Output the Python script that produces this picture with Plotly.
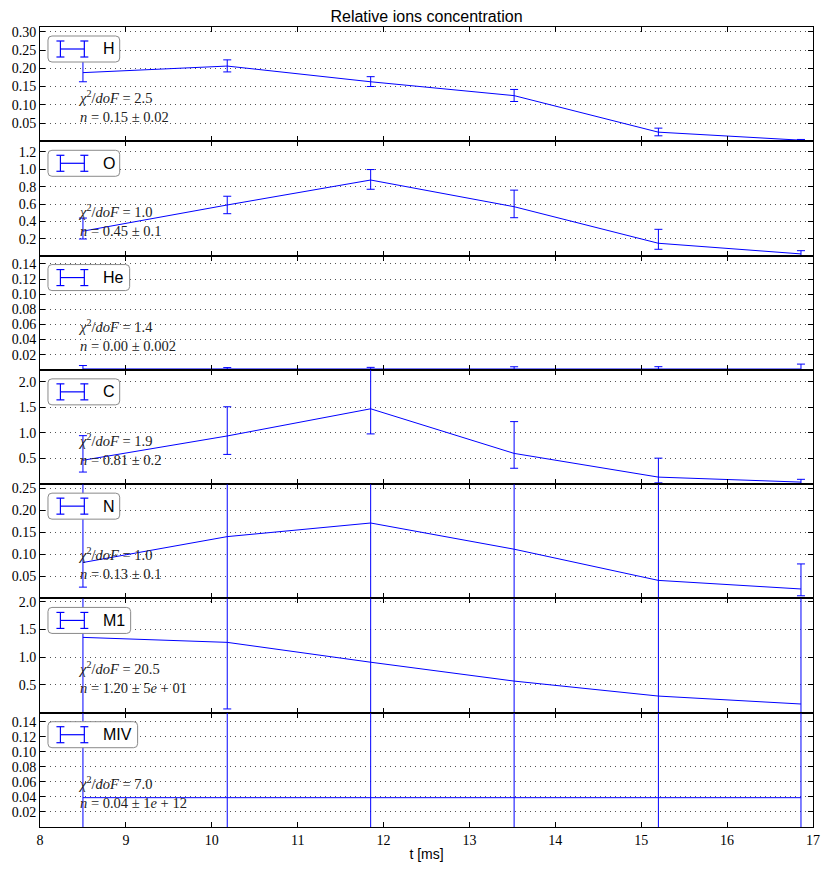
import plotly.graph_objects as go
from plotly.subplots import make_subplots

# ---------------- data ----------------
t_ms = [8.5, 10.18, 11.85, 13.52, 15.2, 16.86]
ions = ["H", "O", "He", "C", "N", "M1", "MIV"]

H_val = [0.188, 0.206, 0.163, 0.125, 0.025, 0.003]
H_up = [0.052, 0.017, 0.014, 0.017, 0.011, 0.002]
H_dn = [0.025, 0.016, 0.013, 0.016, 0.010, 0.002]

O_val = [0.29, 0.59, 0.876, 0.57, 0.151, 0.029]
O_up = [0.15, 0.10, 0.12, 0.19, 0.16, 0.037]
O_dn = [0.09, 0.10, 0.106, 0.126, 0.069, 0.029]

He_val = [0.0012, 0.0010, 0.0008, 0.0009, 0.0010, 0.0011]
He_up = [0.0045, 0.0020, 0.0025, 0.0032, 0.0032, 0.0065]
He_dn = [0.0012, 0.0010, 0.0008, 0.0009, 0.0010, 0.0011]

C_val = [0.466, 0.94, 1.47, 0.60, 0.137, 0.04]
C_up = [0.48, 0.57, 0.80, 0.62, 0.37, 0.054]
C_dn = [0.23, 0.36, 0.49, 0.29, 0.112, 0.04]

N_val = [0.0817, 0.1406, 0.1716, 0.112, 0.041, 0.0215]
N_up = [0.30, 0.30, 0.30, 0.30, 0.30, 0.057]
N_dn = [0.056, 0.139, 0.30, 0.112, 0.041, 0.0155]

M1_val = [1.358, 1.268, 0.91, 0.57, 0.30, 0.157]
M1_up = [50.0, 50.0, 50.0, 50.0, 50.0, 50.0]
M1_dn = [50.0, 1.20, 50.0, 50.0, 50.0, 50.0]

MIV_val = [0.039, 0.039, 0.039, 0.039, 0.039, 0.039]
MIV_up = [1e12, 1e12, 1e12, 1e12, 1e12, 1e12]
MIV_dn = [1e12, 1e12, 1e12, 1e12, 1e12, 1e12]

values = [H_val, O_val, He_val, C_val, N_val, M1_val, MIV_val]
err_up = [H_up, O_up, He_up, C_up, N_up, M1_up, MIV_up]
err_dn = [H_dn, O_dn, He_dn, C_dn, N_dn, M1_dn, MIV_dn]

chi2_dof = ["2.5", "1.0", "1.4", "1.9", "1.0", "20.5", "7.0"]
n_fit = ["0.15 ± 0.02", "0.45 ± 0.1", "0.00 ± 0.002", "0.81 ± 0.2",
         "0.13 ± 0.1", "1.20 ± 5<i>e</i> + 01", "0.04 ± 1<i>e</i> + 12"]

x_ticks = [8, 9, 10, 11, 12, 13, 14, 15, 16, 17]
y_ticks = [
    [0.05, 0.10, 0.15, 0.20, 0.25, 0.30],
    [0.2, 0.4, 0.6, 0.8, 1.0, 1.2],
    [0.02, 0.04, 0.06, 0.08, 0.10, 0.12, 0.14],
    [0.5, 1.0, 1.5, 2.0],
    [0.05, 0.10, 0.15, 0.20, 0.25],
    [0.5, 1.0, 1.5, 2.0],
    [0.02, 0.04, 0.06, 0.08, 0.10, 0.12, 0.14],
]
y_ticktext = [
    ["0.05", "0.10", "0.15", "0.20", "0.25", "0.30"],
    ["0.2", "0.4", "0.6", "0.8", "1.0", "1.2"],
    ["0.02", "0.04", "0.06", "0.08", "0.10", "0.12", "0.14"],
    ["0.5", "1.0", "1.5", "2.0"],
    ["0.05", "0.10", "0.15", "0.20", "0.25"],
    ["0.5", "1.0", "1.5", "2.0"],
    ["0.02", "0.04", "0.06", "0.08", "0.10", "0.12", "0.14"],
]
y_ranges = [[0, 0.313], [0.01, 1.32], [0, 0.151], [0, 2.23],
            [0, 0.26], [0, 2.06], [0, 0.152]]

# ---------------- layout geometry (pixels) ----------------
W, H = 832, 872
ML, MR, MT, MB = 39, 17, 27, 45
PW, PH = W - ML - MR, H - MT - MB
NP = len(ions)
panel_h = PH / NP


def px2x(px):
    return (px - ML) / PW


def py2y(py):
    return (MT + PH - py) / PH


serif = "Liberation Serif, DejaVu Serif, serif"
sans = "Liberation Sans, Arial, sans-serif"
blue = "#0000ff"

fig = make_subplots(rows=NP, cols=1, shared_xaxes=True, vertical_spacing=0)

for i in range(NP):
    fig.add_trace(
        go.Scatter(
            x=t_ms, y=values[i], mode="lines", name=ions[i], showlegend=False,
            line=dict(color=blue, width=1),
            error_y=dict(type="data", symmetric=False, array=err_up[i],
                         arrayminus=err_dn[i], color=blue, thickness=1, width=4),
        ),
        row=i + 1, col=1,
    )
    fig.update_yaxes(
        range=y_ranges[i], tickvals=y_ticks[i], ticktext=y_ticktext[i],
        row=i + 1, col=1,
    )

fig.update_xaxes(
    range=[8, 17], tickvals=x_ticks, ticks="inside", ticklen=5, tickcolor="black",
    tickwidth=1, mirror="allticks", showline=True, linecolor="black", linewidth=1,
    showgrid=False, zeroline=False,
    tickfont=dict(family=serif, size=14, color="black"),
)
fig.update_yaxes(
    ticks="inside", ticklen=5, tickcolor="black", tickwidth=1, mirror="allticks",
    showline=True, linecolor="black", linewidth=1, zeroline=False,
    showgrid=True, gridcolor="#555555", gridwidth=1, griddash="1px,4px",
    tickfont=dict(family=serif, size=14, color="black"),
)
fig.update_xaxes(title=dict(text="t [ms]", font=dict(family=sans, size=14, color="black"),
                            standoff=2), row=NP, col=1)

shapes = []
annotations = []
box_right = [119, 119, 129, 119, 119, 130, 137]
r = 4
for i in range(NP):
    top = MT + i * panel_h
    bottom = top + panel_h
    # legend frame
    x0, x1 = 47, box_right[i]
    y0, y1 = top + 9, top + 35
    pts = [
        ("M", [(x0 + r, y0)]), ("L", [(x1 - r, y0)]), ("Q", [(x1, y0), (x1, y0 + r)]),
        ("L", [(x1, y1 - r)]), ("Q", [(x1, y1), (x1 - r, y1)]), ("L", [(x0 + r, y1)]),
        ("Q", [(x0, y1), (x0, y1 - r)]), ("L", [(x0, y0 + r)]), ("Q", [(x0, y0), (x0 + r, y0)]),
    ]
    path = " ".join(
        cmd + " " + " ".join(f"{px2x(a):.5f},{py2y(b):.5f}" for a, b in cs) for cmd, cs in pts
    ) + " Z"
    shapes.append(dict(type="path", xref="paper", yref="paper", path=path,
                       fillcolor="white", line=dict(color="#8a8a8a", width=1), layer="above"))
    # legend handle: line with error caps
    ym = top + 22
    xa, xb = 59.5, 83.5
    shapes.append(dict(type="line", xref="paper", yref="paper", x0=px2x(xa), x1=px2x(xb),
                       y0=py2y(ym), y1=py2y(ym), line=dict(color=blue, width=1.2), layer="above"))
    for xc in (xa, xb):
        shapes.append(dict(type="line", xref="paper", yref="paper", x0=px2x(xc), x1=px2x(xc),
                           y0=py2y(ym - 8), y1=py2y(ym + 8), line=dict(color=blue, width=1.2),
                           layer="above"))
        for yc in (ym - 8, ym + 8):
            shapes.append(dict(type="line", xref="paper", yref="paper", x0=px2x(xc - 4),
                               x1=px2x(xc + 4), y0=py2y(yc), y1=py2y(yc),
                               line=dict(color=blue, width=1.2), layer="above"))
    annotations.append(dict(text=ions[i], xref="paper", yref="paper", x=px2x(100),
                            y=py2y(ym), xanchor="left", yanchor="middle", showarrow=False,
                            font=dict(family=sans, size=16, color="black")))
    # fit texts (two lines in one block)
    annotations.append(dict(
        text=f"<i>χ</i><sup>2</sup>/<i>doF</i> = {chi2_dof[i]}<br><i>n</i> = {n_fit[i]}",
        xref="paper", yref="paper", x=px2x(75), y=py2y(bottom - 0.305 * panel_h),
        xanchor="left", yanchor="middle", align="left", showarrow=False,
        font=dict(family=serif, size=14.5, color="#222222")))

fig.update_layout(
    width=W, height=H,
    margin=dict(l=ML, r=MR, t=MT, b=MB),
    paper_bgcolor="white", plot_bgcolor="white",
    title=dict(text="Relative ions concentration", x=0.5, xref="paper", xanchor="center",
               y=1 - 16 / H, yref="container", yanchor="middle",
               font=dict(family=sans, size=16, color="black")),
    shapes=shapes, annotations=annotations, showlegend=False,
)

fig.write_html("out.html")
